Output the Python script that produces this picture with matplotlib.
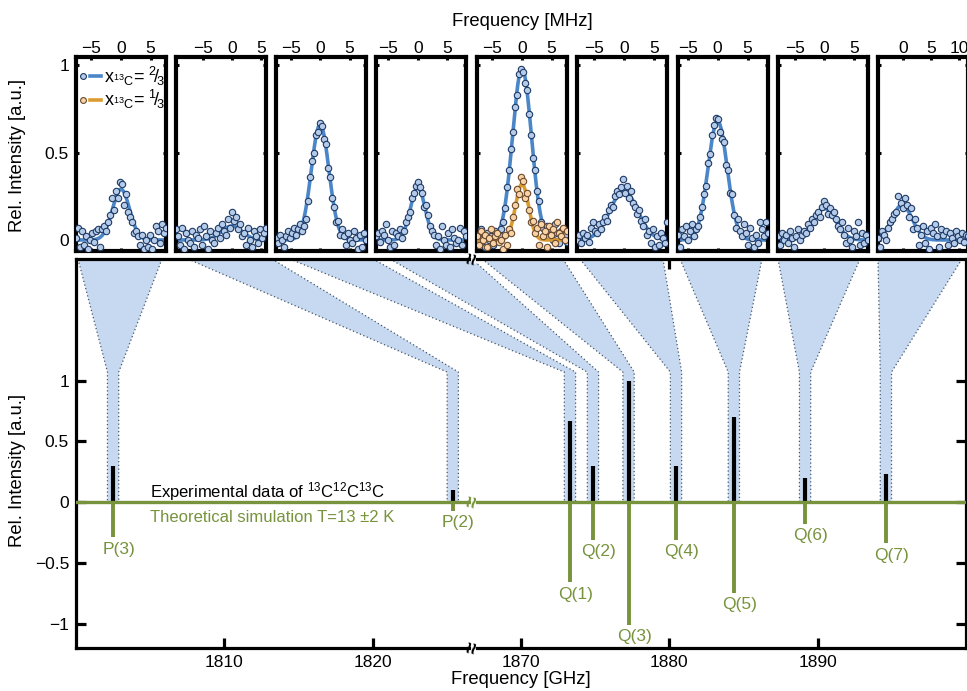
import numpy as np
import matplotlib.pyplot as plt
from matplotlib.lines import Line2D
from matplotlib.legend_handler import HandlerTuple
from matplotlib.patches import Polygon

plt.rcParams['font.family'] = ['Liberation Sans', 'DejaVu Sans']
plt.rcParams['mathtext.fontset'] = 'custom'
plt.rcParams['mathtext.rm'] = 'Liberation Sans'
plt.rcParams['mathtext.it'] = 'Liberation Sans:italic'
plt.rcParams['mathtext.default'] = 'regular'
plt.rcParams['font.size'] = 12

# ---- transitions (bottom panel) ----
line_labels = ['P(3)', 'P(2)', 'Q(1)', 'Q(2)', 'Q(3)', 'Q(4)', 'Q(5)', 'Q(6)', 'Q(7)']
line_freq = [1802.5, 1825.4, 1873.3, 1874.85, 1877.25, 1880.45, 1884.35, 1889.15, 1894.6]  # GHz
exp_int = [0.30, 0.10, 0.67, 0.30, 1.00, 0.30, 0.70, 0.20, 0.23]
sim_int = [0.29, 0.07, 0.66, 0.31, 1.01, 0.31, 0.75, 0.18, 0.34]
xtick_freq = [1810, 1820, 1870, 1880, 1890]

# ---- zoomed scans (top panels), offsets in MHz ----
scan_range = [(-7.6, 7.6), (-9.6, 5.9), (-7.5, 7.8), (-7.1, 8.2), (-7.6, 7.6),
              (-7.8, 7.2), (-6.6, 8.4), (-7.8, 7.3), (-4.5, 11.6)]
scan_y = [
    [0.01, 0.07, -0.04, 0.05, -0.03, 0.02, -0.05, 0.0, 0.04, -0.01, 0.05, 0.06, -0.04, 0.06, 0.08, 0.05,
     0.1, 0.14, 0.24, 0.17, 0.28, 0.24, 0.33, 0.32, 0.2, 0.26, 0.16, 0.13, 0.1, 0.04, 0.05, 0.02, -0.03,
     0.03, -0.05, 0.0, -0.04, 0.03, -0.05, 0.0, 0.08, 0.05, -0.02, 0.09, 0.04, 0.07],
    [0.06, 0.02, -0.03, 0.07, -0.05, 0.04, 0.0, -0.02, 0.05, -0.04, 0.03, 0.01, 0.06, -0.03, 0.08, 0.02,
     -0.05, 0.05, 0.0, -0.02, 0.04, 0.07, 0.01, 0.09, 0.05, 0.03, 0.12, 0.07, 0.16, 0.11, 0.13, 0.06,
     0.09, 0.02, 0.04, -0.03, 0.07, 0.0, -0.04, 0.05, 0.02, -0.02, 0.06, 0.01, 0.04, 0.07],
    [0.01, -0.02, 0.03, 0.0, -0.04, 0.02, 0.05, 0.01, 0.04, 0.07, 0.03, 0.06, 0.09, 0.05, 0.08, 0.12,
     0.22, 0.36, 0.45, 0.5, 0.6, 0.62, 0.67, 0.65, 0.58, 0.55, 0.41, 0.36, 0.24, 0.19, 0.1, 0.11, 0.03,
     0.06, 0.02, -0.03, 0.04, 0.0, -0.02, 0.05, 0.01, -0.05, 0.03, -0.04, 0.04, 0.0],
    [0.02, 0.04, -0.01, 0.05, 0.03, 0.09, 0.0, -0.04, 0.05, -0.03, 0.04, 0.02, 0.06, 0.01, 0.05, 0.1,
     0.13, 0.16, 0.24, 0.27, 0.31, 0.33, 0.3, 0.27, 0.19, 0.2, 0.14, 0.08, 0.05, 0.03, -0.03, 0.02,
     -0.05, 0.08, 0.0, -0.03, 0.04, -0.04, 0.06, 0.01, -0.02, 0.0, 0.07, -0.03, 0.05, 0.02],
    [0.03, -0.02, 0.06, 0.01, -0.04, 0.04, 0.0, 0.02, -0.03, 0.05, 0.01, 0.03, 0.06, 0.1, 0.18, 0.3,
     0.4, 0.52, 0.62, 0.76, 0.83, 0.95, 0.98, 0.96, 0.9, 0.86, 0.72, 0.6, 0.47, 0.4, 0.28, 0.22, 0.1,
     0.07, 0.03, 0.08, 0.02, 0.06, 0.0, 0.09, 0.04, -0.02, 0.05, 0.01, 0.03, -0.01],
    [0.0, 0.03, -0.02, 0.04, 0.01, 0.03, -0.01, 0.07, 0.1, 0.05, 0.04, 0.09, 0.06, 0.1, 0.13, 0.11,
     0.17, 0.2, 0.19, 0.25, 0.28, 0.26, 0.3, 0.35, 0.27, 0.31, 0.24, 0.28, 0.21, 0.19, 0.15, 0.17, 0.11,
     0.08, 0.12, 0.03, 0.05, -0.02, 0.06, -0.04, 0.02, -0.03, 0.04, 0.01, -0.02, 0.1],
    [0.03, -0.04, 0.06, 0.02, 0.08, 0.0, 0.05, 0.09, 0.02, 0.06, 0.08, 0.13, 0.19, 0.26, 0.31, 0.44,
     0.49, 0.6, 0.66, 0.7, 0.69, 0.62, 0.58, 0.56, 0.43, 0.4, 0.27, 0.26, 0.14, 0.07, 0.12, 0.05, 0.02,
     0.09, 0.04, -0.03, 0.07, 0.01, -0.04, 0.03, -0.02, 0.1, 0.06, 0.02, 0.1, 0.04],
    [0.02, -0.03, 0.04, 0.0, 0.03, -0.02, 0.05, 0.01, -0.04, 0.02, 0.06, 0.0, 0.03, 0.05, 0.04, 0.09,
     0.07, 0.12, 0.1, 0.14, 0.16, 0.13, 0.19, 0.22, 0.2, 0.15, 0.18, 0.14, 0.16, 0.12, 0.08, 0.06, 0.1,
     0.03, -0.02, 0.07, 0.0, -0.04, 0.05, 0.02, 0.1, -0.03, 0.04, -0.02, 0.03, 0.0],
    [0.01, -0.04, 0.05, 0.03, 0.0, 0.07, 0.1, 0.12, 0.15, 0.16, 0.25, 0.21, 0.18, 0.24, 0.2, 0.13, 0.18,
     0.06, 0.12, 0.07, -0.03, 0.03, 0.08, -0.02, 0.05, -0.05, 0.07, 0.04, 0.09, 0.02, -0.04, 0.06, 0.03,
     0.05, -0.03, 0.04, 0.01, -0.02, 0.05, 0.02, 0.0, 0.04, -0.01, 0.03, 0.02],
]
# x13C = 1/3 sample, Q(3) only
scan_y_third = [0.02, -0.03, 0.05, 0.0, 0.03, -0.04, 0.01, 0.06, -0.02, 0.02, 0.04, -0.01, 0.0, -0.05,
                0.03, -0.03, 0.06, 0.04, 0.13, 0.2, 0.29, 0.26, 0.36, 0.34, 0.24, 0.27, 0.17, 0.1, 0.11,
                0.04, 0.07, -0.03, 0.09, 0.02, 0.05, -0.04, 0.08, 0.03, 0.06, -0.02, 0.1, 0.04, 0.02,
                0.07, 0.0, 0.05]

# gaussian fit parameters
fit_amp = [0.29, 0.08, 0.66, 0.30, 0.98, 0.28, 0.68, 0.18, 0.20]
fit_center = [0.0, 0.0, 0.0, 0.0, 0.0, 0.0, 0.0, 0.0, -0.2]
fit_sigma = [1.45, 1.8, 1.5, 1.25, 1.6, 2.3, 1.6, 1.9, 1.8]
fit_third = (0.32, 0.0, 1.1)

# ---- colours ----
GREEN = '#77933C'
BLUE = '#4A86C8'
ORANGE = '#DB9B2E'
FUNNEL = '#C6D9F0'
EDGE = '#44546A'
PT_BLUE = dict(mfc='#B4CBEA', mec='#1F3A64')
PT_ORANGE = dict(mfc='#F9D3A6', mec='#6B4A2E')

W, H = 967, 691
fig = plt.figure(figsize=(W / 100, H / 100), dpi=100)


def fig_rect(x0, y0, x1, y1):
    return [x0 / W, 1 - y1 / H, (x1 - x0) / W, (y1 - y0) / H]


SHIFT = 40  # GHz removed by the axis break


def to_axis(f):
    f = np.asarray(f, dtype=float)
    return np.where(f > 1850, f - SHIFT, f)


# ---- bottom stick spectrum ----
ax = fig.add_axes(fig_rect(76, 259, 966, 648))
ax.set_xlim(1800, 1860)
ax.set_ylim(-1.2, 2.0)
for s in ax.spines.values():
    s.set_linewidth(2.3)
ax.tick_params(direction='in', length=7, width=2.3, top=True, right=True, labelsize=12.5, pad=5)
ax.set_xticks(to_axis(xtick_freq))
ax.set_xticklabels([str(f) for f in xtick_freq])
ax.set_yticks([-1, -0.5, 0, 0.5, 1])
ax.set_yticklabels(['\u22121', '\u22120.5', '0', '0.5', '1'])
ax.set_xlabel('Frequency [GHz]', fontsize=13.3, labelpad=1)

fx = to_axis(line_freq)
ax.vlines(fx, 0, exp_int, color='black', lw=3.0, zorder=3)
ax.vlines(fx, -np.asarray(sim_int), 0, color=GREEN, lw=2.8, zorder=3)
ax.axhline(0, color=GREEN, lw=2.4, zorder=4)
for x, s, lab in zip(fx, sim_int, line_labels):
    ax.annotate(lab, (x, -s), xytext=(4, -3), textcoords='offset points',
                ha='center', va='top', color=GREEN, fontsize=12.5)

ax.text(1805.0, 0.04, 'Experimental data of $^{13}$C$^{12}$C$^{13}$C', fontsize=12,
        color='black', va='baseline')
ax.text(1805.0, -0.165, 'Theoretical simulation T=13 \u00b12 K', fontsize=12,
        color=GREEN, va='baseline')

# axis-break marks
xb = 1826.75
for yb, c in [(2.0, 'black'), (-1.2, 'black'), (0, GREEN)]:
    ax.plot([xb, xb], [yb - 0.03, yb + 0.03], color='white', lw=3.5, zorder=6, clip_on=False,
            solid_capstyle='butt')
    ax.text(xb, yb, '\u2248', rotation=78, ha='center', va='center', fontsize=15,
            fontweight='bold', color=c, zorder=7, clip_on=False)

# ---- top panels ----
panel_left = [76, 176, 276, 376, 477, 577, 678, 778, 878]
panel_w = 90
panel_top, panel_bot = 57, 251
# where each funnel meets the top of the stick spectrum (pixels)
funnel_top = [(78, 162), (188, 272), (290, 373), (390, 472), (482, 563),
              (580, 663), (680, 762), (778, 860), (878, 962)]

fig.text(522 / W, 1 - 21 / H, 'Frequency [MHz]', ha='center', va='center', fontsize=13.3)
fig.text(18 / W, 1 - 155 / H, 'Rel. Intensity [a.u.]', rotation=90, ha='center', va='center',
         fontsize=13.3)
fig.text(18 / W, 1 - 470 / H, 'Rel. Intensity [a.u.]', rotation=90, ha='center', va='center',
         fontsize=13.3)

kink = 1.07
half_w = 0.38
disp_to_data = ax.transData.inverted()

for i, left in enumerate(panel_left):
    pa = fig.add_axes(fig_rect(left, panel_top, left + panel_w, panel_bot))
    lo, hi = scan_range[i]
    pa.set_xlim(lo, hi)
    pa.set_ylim(-0.063, 1.046)
    for s in pa.spines.values():
        s.set_linewidth(3)
    pa.xaxis.tick_top()
    ticks = [t for t in (-5, 0, 5, 10) if lo < t < hi]
    pa.set_xticks(ticks)
    pa.set_xticklabels([('\u2212%d' % -t if t < 0 else '%d' % t) for t in ticks])
    pa.set_yticks([0, 0.5, 1])
    pa.tick_params(direction='in', length=2, width=2.2, top=True, bottom=True, left=True,
                   right=True, labelsize=12.5, pad=1, labelleft=(i == 0))
    if i == 0:
        pa.set_yticklabels(['0', '0.5', '1'])
        pa.tick_params(axis='y', pad=5)

    xf = np.linspace(lo, hi, 300)
    yf = fit_amp[i] * np.exp(-(xf - fit_center[i]) ** 2 / (2 * fit_sigma[i] ** 2))
    pa.plot(xf, yf, color=BLUE, lw=2.6, zorder=2)
    xs = np.linspace(lo, hi, len(scan_y[i]))
    pa.plot(xs, scan_y[i], 'o', ms=4.6, mew=0.8, zorder=3, **PT_BLUE)
    if i == 4:
        a, c, sg = fit_third
        pa.plot(xf, a * np.exp(-(xf - c) ** 2 / (2 * sg ** 2)), color=ORANGE, lw=2.6, zorder=4)
        xs3 = np.linspace(lo, hi, len(scan_y_third))
        pa.plot(xs3, scan_y_third, 'o', ms=4.6, mew=0.8, zorder=5, **PT_ORANGE)
    if i == 0:
        h1 = (Line2D([], [], ls='none', marker='o', ms=4.2, mew=0.8, **PT_BLUE),
              Line2D([], [], color=BLUE, lw=2.6))
        h2 = (Line2D([], [], ls='none', marker='o', ms=4.2, mew=0.8, **PT_ORANGE),
              Line2D([], [], color=ORANGE, lw=2.6))
        pa.legend([h1, h2], ['x$_{^{13}C}$= $^{2}\\!/\\!_{3}$', 'x$_{^{13}C}$= $^{1}\\!/\\!_{3}$'],
                  handler_map={tuple: HandlerTuple(ndivide=None, pad=0.1)},
                  loc='upper left', bbox_to_anchor=(0.0, 0.97), frameon=False, fontsize=13,
                  handlelength=1.3, handletextpad=0.15, borderaxespad=0.0, borderpad=0.1,
                  labelspacing=0.02)

    # funnel linking this panel to its stick
    tl, tr = funnel_top[i]
    x_top_l = disp_to_data.transform(fig.transFigure.transform((tl / W, 0)))[0]
    x_top_r = disp_to_data.transform(fig.transFigure.transform((tr / W, 0)))[0]
    f = fx[i]
    verts = [(x_top_l, 2.0), (x_top_r, 2.0), (f + half_w, kink), (f + half_w, 0),
             (f - half_w, 0), (f - half_w, kink)]
    ax.add_patch(Polygon(verts, closed=True, fc=FUNNEL, ec='none', zorder=2))
    ax.plot([x_top_l, f - half_w, f - half_w], [2.0, kink, 0], ls=(0, (1, 2)), color=EDGE,
            lw=0.9, zorder=2.1)
    ax.plot([x_top_r, f + half_w, f + half_w], [2.0, kink, 0], ls=(0, (1, 2)), color=EDGE,
            lw=0.9, zorder=2.1)

fig.savefig('out.png', dpi=100)
